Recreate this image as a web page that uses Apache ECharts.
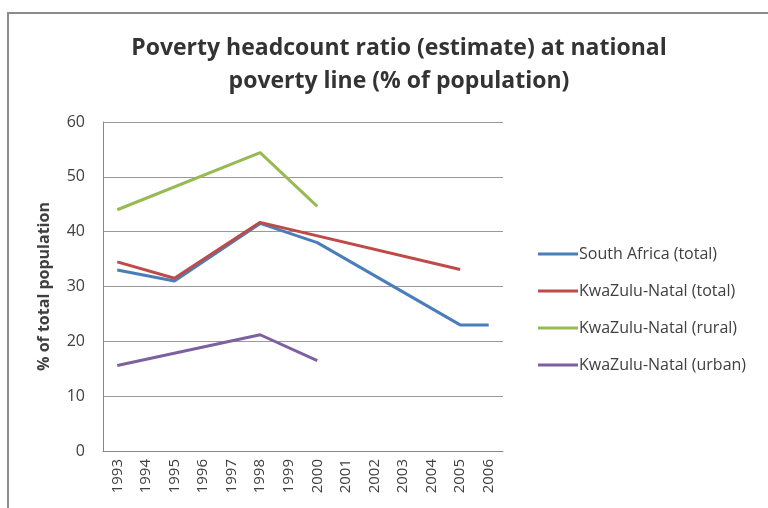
<!DOCTYPE html>
<html>
<head>
<meta charset="utf-8">
<script src="https://cdn.jsdelivr.net/npm/echarts@6/dist/echarts.min.js"></script>
<style>
  html, body { margin: 0; padding: 0; background: #fff; }
  #chart { width: 768px; height: 508px; }
</style>
</head>
<body>
<div id="chart"></div>
<script>
// years on the x axis
var years = ['1993', '1994', '1995', '1996', '1997', '1998', '1999', '2000',
             '2001', '2002', '2003', '2004', '2005', '2006'];

// survey values, null where there is no estimate
var southAfricaTotal = [33, null, 31, null, null, 41.5, null, 38, null, null, null, null, 23, 23];
var kznTotal         = [34.5, null, 31.5, null, null, 41.7, null, null, null, null, null, null, 33.1, null];
var kznRural         = [44, null, null, null, null, 54.4, null, 44.6, null, null, null, null, null, null];
var kznUrban         = [15.6, null, null, null, null, 21.2, null, 16.5, null, null, null, null, null, null];

var seriesNames = ['South Africa (total)', 'KwaZulu-Natal (total)', 'KwaZulu-Natal (rural)', 'KwaZulu-Natal (urban)'];
var seriesColors = ['#4A7EBB', '#BE4B48', '#98B954', '#7D60A0'];
var yTicks = [0, 10, 20, 30, 40, 50, 60];

var font = 'Open Sans';

function line(name, data, color) {
  return {
    name: name,
    type: 'line',
    data: data,
    connectNulls: true,
    symbol: 'none',
    lineStyle: { color: color, width: 3 },
    itemStyle: { color: color }
  };
}

var chart = echarts.init(document.getElementById('chart'), null, { renderer: 'canvas' });

chart.setOption({
  animation: false,
  textStyle: { fontFamily: font },
  title: {
    text: 'Poverty headcount ratio (estimate) at national\npoverty line (% of population)',
    left: 394,
    textAlign: 'center',
    top: 27,
    textStyle: { fontSize: 23, fontWeight: 'bold', color: '#333', lineHeight: 33, fontFamily: font }
  },
  graphic: [{
    type: 'rect',
    shape: { x: 8, y: 13, width: 800, height: 600 },
    style: { fill: 'none', stroke: '#8c8c8c', lineWidth: 2 },
    silent: true
  }],
  legend: {
    orient: 'vertical',
    left: 533,
    top: 241,
    itemWidth: 40,
    itemHeight: 3,
    itemGap: 21,
    icon: 'rect',
    textStyle: { fontSize: 16, color: '#404040', padding: [0, 0, 0, -4] },
    data: seriesNames
  },
  grid: { left: 103, right: 265, top: 122, bottom: 57, containLabel: false },
  xAxis: {
    type: 'category',
    data: years,
    boundaryGap: true,
    axisLine: { lineStyle: { color: '#888', width: 1 } },
    axisTick: { show: false },
    axisLabel: { rotate: 90, color: '#404040', fontSize: 15, margin: 8, interval: 0 }
  },
  yAxis: {
    type: 'value',
    min: yTicks[0],
    max: yTicks[yTicks.length - 1],
    interval: 10,
    name: '% of total population',
    nameLocation: 'middle',
    nameGap: 51,
    nameTextStyle: { fontSize: 16, fontWeight: 'bold', color: '#404040' },
    axisLine: { show: true, lineStyle: { color: '#888', width: 1 } },
    axisTick: { show: false },
    axisLabel: { color: '#404040', fontSize: 16, margin: 18 },
    splitLine: { lineStyle: { color: '#999', width: 1 } }
  },
  series: [
    line(seriesNames[0], southAfricaTotal, seriesColors[0]),
    line(seriesNames[1], kznTotal, seriesColors[1]),
    line(seriesNames[2], kznRural, seriesColors[2]),
    line(seriesNames[3], kznUrban, seriesColors[3])
  ]
});
</script>
</body>
</html>
